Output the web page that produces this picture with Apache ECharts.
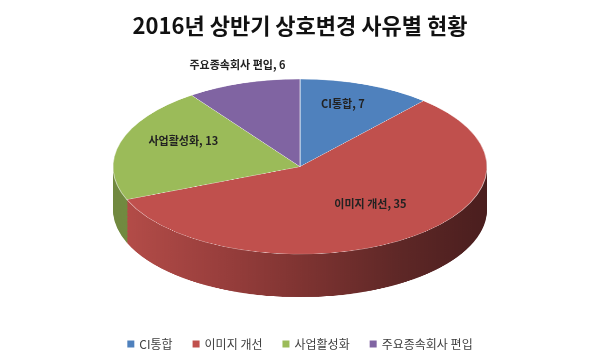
<!DOCTYPE html>
<html><head><meta charset="utf-8">
<script src="https://cdn.jsdelivr.net/npm/echarts@6/dist/echarts.min.js"></script>
<style>
html,body{margin:0;padding:0;background:#fff;overflow:hidden;width:600px;height:360px;}
#pie{position:absolute;left:0;top:73.4px;width:600px;height:500px;transform:scaleY(0.468);transform-origin:0 0;}
#front{position:absolute;left:0;top:0;width:600px;height:360px;}
</style></head><body>
<div id="pie"></div><div id="front"></div>
<script>
// ---- data ----
const titleText = '2016년 상반기 상호변경 사유별 현황';
const categories = ['CI통합', '이미지 개선', '사업활성화', '주요종속회사 편입'];
const values = [7, 35, 13, 6];

// ---- styles ----
const FONT = '"Noto Sans CJK KR", "Noto Sans", sans-serif';
const topColors = ['#4f81bd', '#c0504d', '#9bbb59', '#8064a2'];
const sideColors = [
  '#3a5f8c',
  { type: 'linear', x: 0, y: 0, x2: 1, y2: 0, colorStops: [
    { offset: 0, color: '#b34c48' }, { offset: 0.25, color: '#9a3f3d' },
    { offset: 0.5, color: '#7d3331' }, { offset: 0.75, color: '#5f2827' },
    { offset: 1, color: '#4a1e1e' } ] },
  '#728a40',
  '#5e4a78'
];

// ---- layout (pie chart drawn in a vertically squashed layer) ----
const CX = 300, CY = 200, R = 187;   // in the squashed layer's own coordinates
const DEPTH = 92, LAYERS = 30;
const RX = 187, RY = 87.5, LCY = 157; // label placement on page

const pieChart = echarts.init(document.getElementById('pie'), null, { renderer: 'canvas' });
const pieSeries = [];
for (let k = 0; k <= LAYERS; k++) {
  const off = DEPTH * (1 - k / LAYERS);
  const isTop = k === LAYERS;
  pieSeries.push({
    type: 'pie', silent: true, animation: false, z: k + 1,
    center: [CX, CY + off], radius: R, startAngle: 90, clockwise: true,
    label: { show: false }, labelLine: { show: false },
    emphasis: { disabled: true },
    itemStyle: isTop ? { borderColor: 'rgba(255,255,255,0.6)', borderWidth: 1 } : { borderWidth: 0 },
    data: categories.map((name, i) => ({
      name, value: values[i],
      itemStyle: { color: isTop ? topColors[i] : sideColors[i] }
    }))
  });
}
pieChart.setOption({ backgroundColor: 'transparent', animation: false, series: pieSeries });

// ---- front layer: title, legend, labels ----
const total = values.reduce((a, b) => a + b, 0);
const mids = [];
let acc = 0;
values.forEach(v => { mids.push((acc + v / 2) / total * 2 * Math.PI); acc += v; });

const front = echarts.init(document.getElementById('front'), null, { renderer: 'canvas' });
front.setOption({
  backgroundColor: 'transparent',
  animation: false,
  color: topColors,
  title: {
    text: titleText, left: 'center', top: 10,
    textStyle: { fontFamily: FONT, fontSize: 22, fontWeight: 'bold', color: '#111' }
  },
  legend: {
    top: 333, left: 'center',
    icon: 'rect', itemWidth: 7, itemHeight: 7, itemGap: 20,
    textStyle: { fontFamily: FONT, fontSize: 12, color: '#404040' },
    data: categories.map((n, i) => ({ name: n, itemStyle: { color: topColors[i], opacity: 1 } }))
  },
  series: [{
    type: 'pie', silent: true, center: [300, 167], radius: 0.5,
    startAngle: 90, clockwise: true,
    itemStyle: { color: 'rgba(0,0,0,0)' },
    label: {
      show: true, position: 'inside', formatter: '{b}, {c}',
      fontFamily: FONT, fontSize: 11, fontWeight: 'bold', color: '#222'
    },
    labelLine: { show: false },
    labelLayout: p => {
      const i = p.dataIndex;
      const a = mids[i];
      const f = values[i] / total < 0.1 ? 1.1 : 0.65;
      return { x: 300 + RX * f * Math.sin(a), y: LCY - RY * f * Math.cos(a), align: 'center', verticalAlign: 'middle' };
    },
    data: categories.map((name, i) => ({ name, value: values[i] }))
  }]
});
</script>
</body></html>
